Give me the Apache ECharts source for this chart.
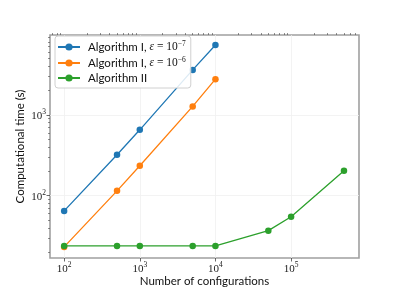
<!DOCTYPE html>
<html><head><meta charset="utf-8">
<script src="https://cdn.jsdelivr.net/npm/echarts@6/dist/echarts.min.js"></script>
<style>html,body{margin:0;padding:0;background:#fff}#c{width:399px;height:290px}</style>
</head><body><div id="c"></div>
<script>
var xA = [100, 500, 1000, 5000, 10000];
var yA7 = [65, 321, 653, 3590, 7300];
var yA6 = [23.3, 115, 235, 1270, 2760];
var xB = [100, 500, 1000, 5000, 10000, 50000, 100000, 500000];
var yB = [24, 24, 24, 24, 24, 37, 55, 204];
var seriesNames = ['Algorithm I, \u03b5 = 10^{-7}', 'Algorithm I, \u03b5 = 10^{-6}', 'Algorithm II'];
var xMajor = [100, 1000, 10000, 100000];
var yMajor = [100, 1000];
var xMinor = [];
[10, 100, 1000, 10000, 100000].forEach(function (d) { for (var k = 2; k <= 9; k++) { var v = d * k; if (v > 65 && v < 790000) xMinor.push(v); } });
var yMinor = [];
[10, 100, 1000].forEach(function (d) { for (var k = 2; k <= 9; k++) { var v = d * k; if (v > 17 && v < 9700) yMinor.push(v); } });
var xMin = 65, xMax = 790000, yMin = 17, yMax = 9700;

var serif = "'Liberation Serif', 'DejaVu Serif', serif";
var sans = "Lato, 'Liberation Sans', sans-serif";
var tickRich = {
  b: { fontFamily: serif, fontSize: 11, color: '#222', padding: [3, 0, 0, 0] },
  s: { fontFamily: serif, fontSize: 7.5, color: '#222', verticalAlign: 'top', padding: [0, 0, 5, 0] }
};
function powLabel(v) {
  var e = Math.round(Math.log10(v));
  return '{b|10}{s|' + e + '}';
}
var legendRich = {
  t: { fontFamily: sans, fontSize: 11.5, color: '#111' },
  e: { fontFamily: serif, fontSize: 11.5, fontStyle: 'italic', color: '#111' },
  m: { fontFamily: serif, fontSize: 11.5, color: '#111' },
  s: { fontFamily: serif, fontSize: 7.5, color: '#111', verticalAlign: 'top', padding: [0, 0, 6, 0] }
};
function legendFmt(name) {
  var m = name.match(/^(.*), \u03b5 = 10\^\{(.*)\}$/);
  if (!m) return '{t|' + name + '}';
  return '{t|' + m[1] + ', }{e|\u03b5}{m| = 10}{s|' + m[2].replace('-', '\u2212') + '}';
}
var colors = ['#1f77b4', '#ff7f0e', '#2ca02c'];
function mk(name, xs, ys, i) {
  return {
    name: name, type: 'line', xAxisIndex: 0, yAxisIndex: 0,
    data: xs.map(function (x, j) { return [x, ys[j]]; }),
    symbol: 'circle', symbolSize: 6.5, showSymbol: true,
    itemStyle: { color: colors[i] }, lineStyle: { color: colors[i], width: 1.3 },
    emphasis: { disabled: true }, animation: false, z: 3 + i
  };
}
var chart = echarts.init(document.getElementById('c'), null, { renderer: 'canvas' });
var axisBase = function (min, max) { return { type: 'log', logBase: 10, min: min, max: max }; };
chart.setOption({
  animation: false,
  backgroundColor: '#fff',
  grid: { left: 50, right: 40, top: 35, bottom: 32, containLabel: false, outerBoundsMode: 'none', show: true, borderColor: '#a0a0a0', borderWidth: 1.6, backgroundColor: 'transparent' },
  legend: {
    left: 55, top: 36, orient: 'vertical', itemWidth: 22, itemHeight: 9, itemGap: 3,
    padding: [4, 5, 4, 2], borderColor: '#d0d0d0', borderWidth: 1, borderRadius: 3,
    backgroundColor: 'rgba(255,255,255,0.85)',
    data: seriesNames, formatter: legendFmt, textStyle: { rich: legendRich, padding: [0, 0, 0, 3] }
  },
  xAxis: [
    Object.assign(axisBase(xMin, xMax), {
      name: 'Number of configurations', nameLocation: 'middle', nameGap: 17, nameMoveOverlap: false,
      nameTextStyle: { fontFamily: sans, fontSize: 11.5, color: '#111' },
      axisLine: { show: false },
      axisTick: { show: true, length: 3.5, lineStyle: { color: '#444', width: 0.8 }, customValues: xMajor },
      axisLabel: { customValues: xMajor, formatter: powLabel, rich: tickRich, margin: 3, showMinLabel: true, showMaxLabel: true },
      splitLine: { show: true, lineStyle: { color: '#f0f0f0', width: 0.8 } }
    }),
    Object.assign(axisBase(xMin, xMax), {
      axisLine: { show: false },
      axisTick: { show: true, length: 2, lineStyle: { color: '#444', width: 0.6 }, customValues: xMinor },
      axisLabel: { show: false }, splitLine: { show: false }
    })
  ],
  yAxis: [
    Object.assign(axisBase(yMin, yMax), {
      name: 'Computational time (s)', nameLocation: 'middle', nameGap: 24, nameMoveOverlap: false,
      nameTextStyle: { fontFamily: sans, fontSize: 11.5, color: '#111' },
      axisLine: { show: false },
      axisTick: { show: true, length: 3.5, lineStyle: { color: '#444', width: 0.8 }, customValues: yMajor },
      axisLabel: { customValues: yMajor, formatter: powLabel, rich: tickRich, margin: 4 },
      splitLine: { show: true, lineStyle: { color: '#f0f0f0', width: 0.8 } }
    }),
    Object.assign(axisBase(yMin, yMax), {
      position: 'left',
      axisLine: { show: false },
      axisTick: { show: true, length: 2, lineStyle: { color: '#444', width: 0.6 }, customValues: yMinor },
      axisLabel: { show: false }, splitLine: { show: false }
    })
  ],
  series: [
    mk(seriesNames[0], xA, yA7, 0),
    mk(seriesNames[1], xA, yA6, 1),
    mk(seriesNames[2], xB, yB, 2)
  ]
});
</script></body></html>
